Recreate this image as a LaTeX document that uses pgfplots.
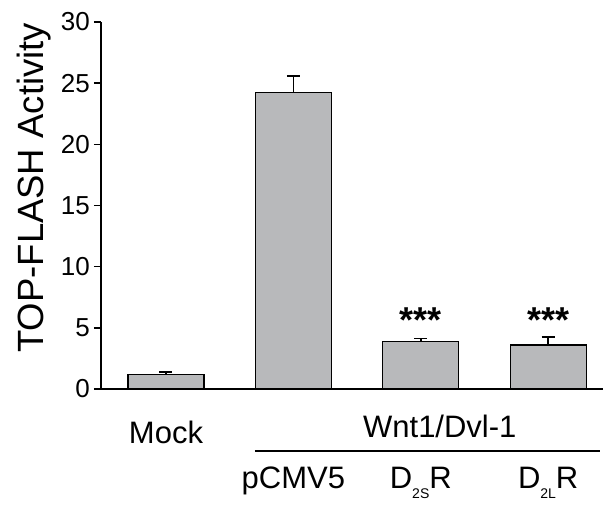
\documentclass[border=0pt]{standalone}
\usepackage{fontspec}
\setmainfont{Liberation Sans}
\usepackage{pgfplots}
\pgfplotsset{compat=1.18}
\definecolor{barfill}{RGB}{184,185,187}
\begin{document}
\begin{tikzpicture}
\path[use as bounding box] (-101pt,-121pt) rectangle (502pt,389pt);
\begin{axis}[
  at={(0,0)}, anchor=south west,
  scale only axis, width=502pt, height=367pt,
  xmin=-0.51, xmax=3.43, ymin=0, ymax=30,
  clip=false,
  axis x line=bottom, axis y line=left,
  axis line style={-, line width=1.6pt, black},
  ytick={0,5,...,30}, ytick pos=left, tick align=outside, major tick length=7pt,
  y tick style={line width=1.6pt, black},
  /pgf/number format/assume math mode=true,
  yticklabel style={font=\fontsize{26}{26}\selectfont, inner sep=4pt},
  xtick={1,2,3},
  xticklabels={pCMV5, D\raisebox{-10pt}{\fontsize{14}{14}\selectfont 2S}R, D\raisebox{-10pt}{\fontsize{14}{14}\selectfont 2L}R},
  x tick style={draw=none},
  xticklabel style={font=\fontsize{31}{31}\selectfont, anchor=base, yshift=-93pt},
  extra x ticks={0}, extra x tick labels={Mock},
  extra x tick style={xticklabel style={yshift=45pt}, tick style={draw=none}},
  ylabel={TOP-FLASH Activity},
  ylabel style={font=\fontsize{36.5}{36.5}\selectfont, at={(axis description cs:-0.1155,0.548)}, anchor=base},
]
\addplot[ybar, bar width=76pt, fill=barfill, draw=black, line width=1.2pt,
  error bars/.cd, y dir=plus, y explicit,
  error bar style={line width=1.5pt, black},
  error mark options={rotate=90, mark size=6.5pt, line width=1.5pt, black}]
  coordinates {(0,1.17) +- (0,0.22) (1,24.24) +- (0,1.33) (2,3.88) +- (0,0.24) (3,3.60) +- (0,0.64)};
\node[font=\bfseries\fontsize{36}{36}\selectfont, anchor=base] at (axis cs:2,4.6) {***};
\node[font=\bfseries\fontsize{36}{36}\selectfont, anchor=base] at (axis cs:3,4.6) {***};
\node[font=\fontsize{31}{31}\selectfont, anchor=base] at (axis cs:2.149,-3.93) {Wnt1/Dvl-1};
\draw[line width=1.8pt] (axis cs:0.698,-5.08) -- (axis cs:3.404,-5.08);
\end{axis}
\end{tikzpicture}
\end{document}
